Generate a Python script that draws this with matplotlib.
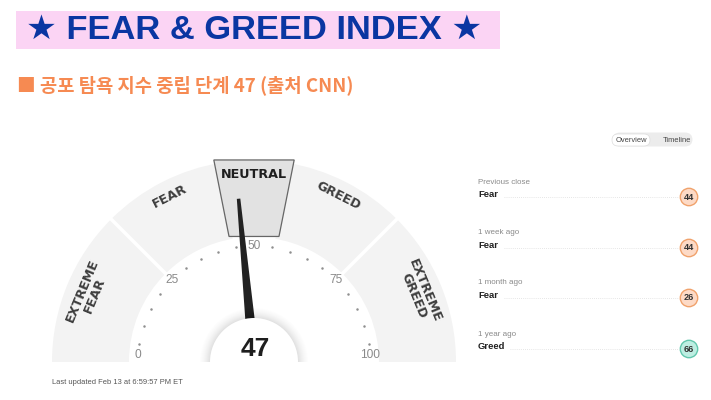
import numpy as np
import matplotlib
matplotlib.use("Agg")
import matplotlib.pyplot as plt
from matplotlib.patches import Wedge, Rectangle, Polygon, Circle, FancyBboxPatch

# ---- data ----
zone_names = ["EXTREME\nFEAR", "FEAR", "NEUTRAL", "GREED", "EXTREME\nGREED"]
zone_bounds = [0, 25, 45, 55, 75, 100]
score = 47
active_zone = "NEUTRAL"
scale_labels = [0, 25, 50, 75, 100]
history_periods = ["Previous close", "1 week ago", "1 month ago", "1 year ago"]
history_ratings = ["Fear", "Fear", "Fear", "Greed"]
history_values = [44, 44, 26, 66]

title_text = "★ FEAR & GREED INDEX ★"
subtitle_text = "■ 공포 탐욕 지수 중립 단계 47 (출처 CNN)"
updated_text = "Last updated Feb 13 at 6:59:57 PM ET"

W, H = 711, 400
fig = plt.figure(figsize=(W / 100, H / 100), dpi=100)
ax = fig.add_axes([0, 0, 1, 1])
ax.set_xlim(0, W)
ax.set_ylim(0, H)
ax.axis("off")


def Y(y):
    # page coordinates are measured from the top
    return H - y


def ang(v):
    return 180.0 - 1.8 * v


def polar(r, v):
    t = np.radians(ang(v))
    return CX + r * np.cos(t), CY + r * np.sin(t)


# ---- header ----
ax.add_patch(Rectangle((16, Y(49)), 484, 38, facecolor="#fbd4f4", edgecolor="none"))
ax.text(254, Y(30), title_text, ha="center", va="center", fontsize=24.8,
        fontweight="bold", color="#0a36a2",
        family=["Liberation Sans", "DejaVu Sans"])
ax.text(17, Y(85), subtitle_text, ha="left", va="center", fontsize=13.5,
        fontweight="bold", color="#f68a52",
        family=["Noto Sans CJK KR", "DejaVu Sans"])

# ---- gauge ----
CX, CY = 254, Y(362)
R_OUT, R_IN = 202, 125
seg_color = "#f3f3f3"

for name, lo, hi in zip(zone_names, zone_bounds[:-1], zone_bounds[1:]):
    if name == active_zone:
        continue
    ax.add_patch(Wedge((CX, CY), R_OUT, ang(hi), ang(lo), width=R_OUT - R_IN,
                       facecolor=seg_color, edgecolor="none", zorder=1))

# white separators between zones
for b in zone_bounds[1:-1]:
    x0, y0 = polar(R_IN - 2, b)
    x1, y1 = polar(R_OUT + 2, b)
    ax.plot([x0, x1], [y0, y1], color="white", lw=2.6, zorder=2,
            solid_capstyle="butt")

# highlighted zone drawn slightly enlarged as a trapezoid
ai = zone_names.index(active_zone)
lo, hi = zone_bounds[ai], zone_bounds[ai + 1]
pad = 1.25
pts = [polar(128, lo - pad), polar(206, lo - pad), polar(206, hi + pad), polar(128, hi + pad)]
ax.add_patch(Polygon(pts, closed=True, facecolor="#e2e2e2", edgecolor="#666666",
                     lw=0.9, zorder=3))

# zone labels
label_r = {"EXTREME\nFEAR": 179, "FEAR": 186, "NEUTRAL": 188, "GREED": 186,
           "EXTREME\nGREED": 179}
for name, lo, hi in zip(zone_names, zone_bounds[:-1], zone_bounds[1:]):
    mid = (lo + hi) / 2
    x, y = polar(label_r[name], mid)
    ax.text(x, y, name, ha="center", va="center", rotation=ang(mid) - 90,
            rotation_mode="anchor", fontsize=9.2, fontweight="bold",
            color="#3e3e3e" if name != active_zone else "#1e1e1e",
            family="DejaVu Sans", linespacing=1.0, multialignment="center", zorder=4)

# scale dots and numbers
R_TICK = 116
dot_vals = [v for v in range(5, 100, 5) if v not in scale_labels]
dx, dy = zip(*[polar(R_TICK, v) for v in dot_vals])
ax.scatter(dx, dy, s=3.2, color="#8f8f8f", zorder=4, linewidths=0)
for v in scale_labels:
    x, y = polar(R_TICK, v)
    y = max(y, Y(355))
    ax.text(x, y, str(v), ha="center", va="center", fontsize=8.6,
            color="#8a8a8a", family="Liberation Sans", zorder=4)

# needle
t = np.radians(ang(score))
u = np.array([np.cos(t), np.sin(t)])
n = np.array([-u[1], u[0]])
c = np.array([CX, CY])
r_base, r_tip, w_base, w_tip = 40, 164, 9.5, 3.5
needle = [c + u * r_base + n * w_base / 2, c + u * r_tip + n * w_tip / 2,
          c + u * r_tip - n * w_tip / 2, c + u * r_base - n * w_base / 2]
ax.add_patch(Polygon(needle, closed=True, facecolor="#222222", edgecolor="none", zorder=5))

# centre disc with a faint soft shadow
for k in range(10, 0, -1):
    ax.add_patch(Wedge((CX, CY), 44 + k, 0, 180, facecolor="black",
                       alpha=0.006 + 0.0012 * (10 - k), edgecolor="none", zorder=6))
ax.add_patch(Wedge((CX, CY), 44, 0, 180, facecolor="white", edgecolor="none", zorder=7))
ax.text(CX + 1, Y(349), str(score), ha="center", va="center", fontsize=19,
        fontweight="bold", color="#1e1e1e", family="Liberation Sans", zorder=8)

ax.text(52, Y(382), updated_text, ha="left", va="center", fontsize=5.4,
        color="#555555", family="Liberation Sans")

# ---- overview / timeline toggle ----
ax.add_patch(FancyBboxPatch((605 + 7.5, Y(147) + 0.5), 95 - 15, 14,
                            boxstyle="round,pad=0,rounding_size=7.5",
                            mutation_aspect=1, facecolor="#ececec", edgecolor="none"))
ax.add_patch(FancyBboxPatch((606 + 6, Y(146)), 50 - 12, 12,
                            boxstyle="round,pad=0,rounding_size=6",
                            facecolor="white", edgecolor="#dddddd", lw=0.5))
ax.text(631, Y(140), "Overview", ha="center", va="center", fontsize=5.4,
        color="#444444", family="Liberation Sans")
ax.text(677, Y(140), "Timeline", ha="center", va="center", fontsize=5.4,
        color="#444444", family="Liberation Sans")

# ---- history list ----
row_top = [182, 233, 283, 334]
fill_for = {"Fear": "#fddac6", "Greed": "#bdeee2"}
edge_for = {"Fear": "#f0a26c", "Greed": "#62c7ad"}
label_end = {"Fear": 504, "Greed": 510}
for period, rating, val, ytop in zip(history_periods, history_ratings, history_values, row_top):
    ax.text(478, Y(ytop), period, ha="left", va="center", fontsize=5.8,
            color="#8a8a8a", family="Liberation Sans")
    ax.text(478, Y(ytop + 12.5), rating, ha="left", va="center", fontsize=6.8,
            fontweight="bold", color="#222222", family="Liberation Sans")
    ax.plot([label_end[rating], 679], [Y(ytop + 15), Y(ytop + 15)], color="#dedede",
            lw=0.6, ls=(0, (1, 1.5)))
    ax.add_patch(Circle((689, Y(ytop + 15)), 8.7, facecolor=fill_for[rating],
                        edgecolor=edge_for[rating], lw=1.0))
    ax.text(689, Y(ytop + 15), str(val), ha="center", va="center", fontsize=6.6,
            fontweight="bold", color="#333333", family="Liberation Sans")

fig.savefig("out.png", dpi=100, facecolor="white")
